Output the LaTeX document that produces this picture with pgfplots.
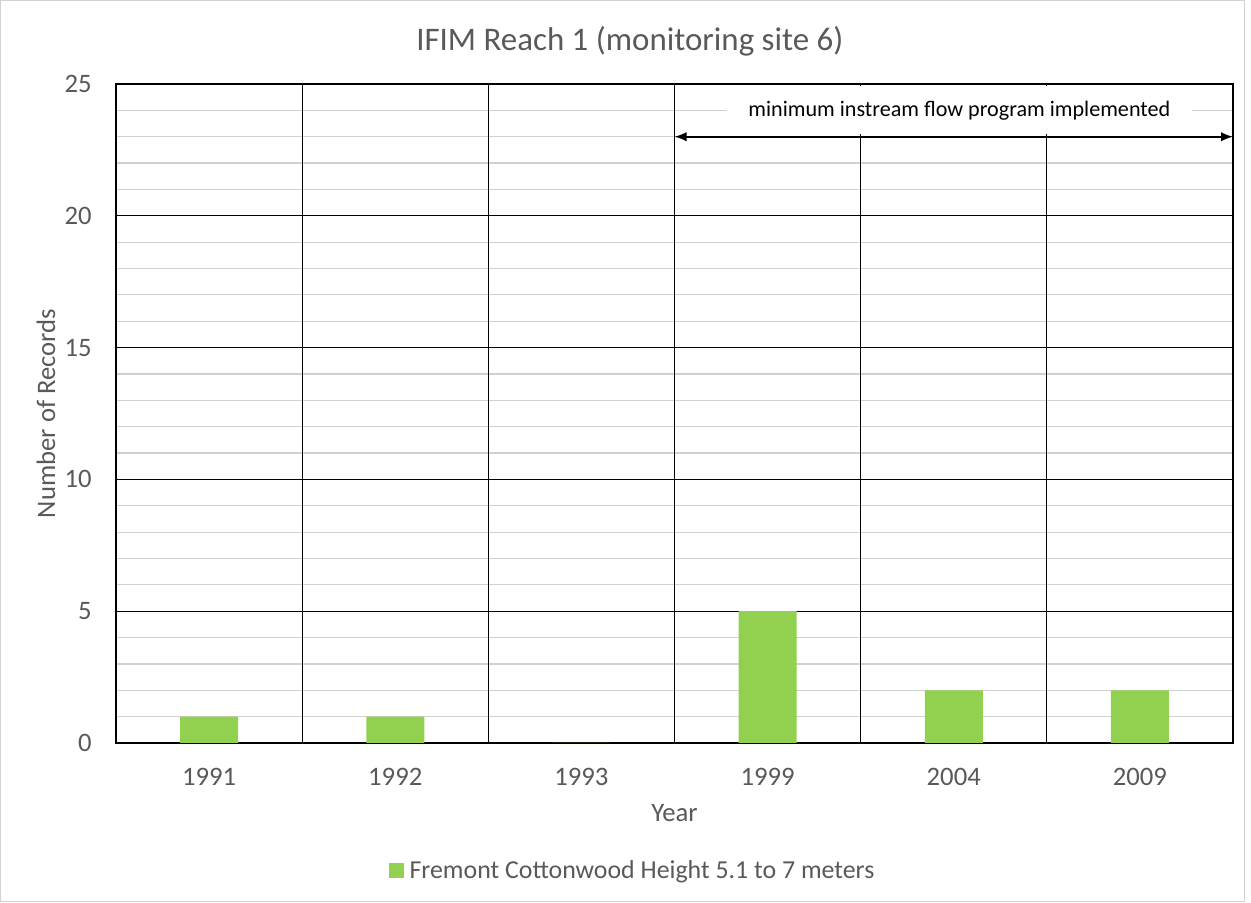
\documentclass[border=0pt]{standalone}
\usepackage{pgfplots}
\pgfplotsset{compat=1.18}
\usepackage{fontspec}
\setmainfont{Carlito}
\usetikzlibrary{arrows.meta}
\definecolor{barg}{HTML}{92D050}
\definecolor{txtg}{HTML}{595959}
\definecolor{gridg}{HTML}{D0D0D0}
\begin{document}
\begin{tikzpicture}
\path[use as bounding box] (0,0) rectangle (938.25pt,676.5pt);
\draw[gray!35, line width=0.75pt] (0.5pt,0.5pt) rectangle (933pt,676pt);
\begin{axis}[
  at={(87pt,119.25pt)}, anchor=south west,
  scale only axis, width=837.75pt, height=494.25pt,
  xmin=-0.5, xmax=5.5, ymin=0, ymax=25,
  ybar, bar width=43.5pt,
  xtick={0,1,2,3,4,5}, xticklabels={1991,1992,1993,1999,2004,2009},
  ytick={0,5,10,15,20,25}, minor y tick num=4,
  ymajorgrids, yminorgrids,
  major grid style={black, line width=0.9pt},
  minor grid style={gridg, line width=0.9pt},
  extra x ticks={0.5,1.5,2.5,3.5,4.5}, extra x tick labels={},
  extra x tick style={grid=major, major grid style={black, line width=0.9pt}},
  major tick length=0pt, minor tick length=0pt,
  axis line style={black, line width=1pt},
  tick label style={font=\fontsize{20}{24}\selectfont, text=txtg},
  /pgf/number format/assume math mode=true,
  yticklabel style={anchor=east, inner sep=0pt, xshift=-18pt},
  xticklabel style={anchor=north, inner sep=0pt, yshift=-19pt},
  title={IFIM Reach 1 (monitoring site 6)},
  title style={at={(axis description cs:0.46,1.053)}, anchor=center, font=\fontsize{24.7}{29}\selectfont, text=txtg},
  xlabel={Year},
  xlabel style={at={(axis description cs:0.5,-0.106)}, anchor=center, font=\fontsize{20}{24}\selectfont, text=txtg},
  ylabel={Number of Records},
  ylabel style={at={(axis description cs:-0.0627,0.5)}, anchor=center, rotate=0, font=\fontsize{20}{24}\selectfont, text=txtg},
  legend style={at={(axis description cs:0.463,-0.194)}, anchor=center, draw=none, fill=none,
    font=\fontsize{19.4}{23}\selectfont, text=txtg, /tikz/every even column/.append style={column sep=0pt}},
  legend image code/.code={\fill[barg] (0pt,-5.6pt) rectangle (11.25pt,5.6pt);},
  clip=false,
]
\addplot[fill=barg, draw=none] coordinates {(0,1) (1,1) (2,0) (3,5) (4,2) (5,2)};
\addlegendentry{\hspace{2pt}Fremont Cottonwood Height 5.1 to 7 meters}
\node[fill=white, minimum width=349pt, minimum height=36pt, inner sep=0pt,
  font=\fontsize{16.6}{20}\selectfont, text=black] at (axis cs:4.03,24.0) {minimum instream flow program implemented};
\draw[{Latex[length=9pt,width=7pt]}-{Latex[length=9pt,width=7pt]}, line width=1.2pt] (axis cs:2.5,23) -- (axis cs:5.5,23);
\end{axis}
\end{tikzpicture}
\end{document}
